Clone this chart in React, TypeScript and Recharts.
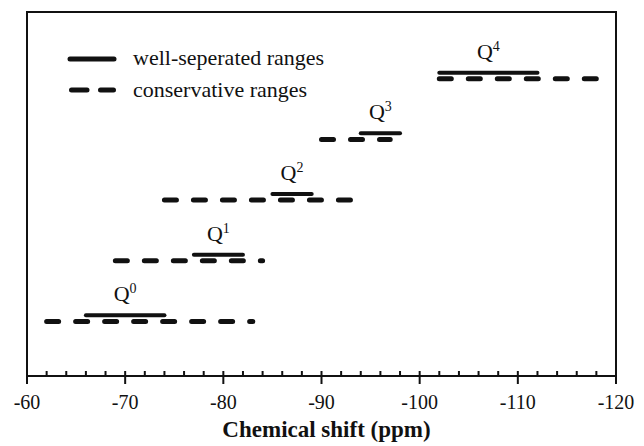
import { LineChart, Line, XAxis, YAxis, ReferenceDot, ReferenceArea, Legend } from 'recharts';

// Q^n species, ranges in ppm
const species = ['0', '1', '2', '3', '4'];
const wellStart = [-66, -77, -85, -94, -102];
const wellEnd = [-74, -82, -89, -98, -112];
const consStart = [-62, -69, -74, -90, -102];
const consEnd = [-83, -84, -93, -97, -118];
const levels = [0.9, 1.9, 2.9, 3.9, 4.9];

const majorTicks = [-60, -70, -80, -90, -100, -110, -120];
const allTicks = [
  -60, -62, -64, -66, -68, -70, -72, -74, -76, -78, -80, -82, -84, -86, -88, -90,
  -92, -94, -96, -98, -100, -102, -104, -106, -108, -110, -112, -114, -116, -118, -120,
];

const legendLabels = ['well-seperated ranges', 'conservative ranges'];

const FONT = 'Liberation Serif';
const INK = '#111';
const SOLID_LIFT = 0.1; // solid bar sits just above its dashed bar

const wellData = species.map((_, i) => [
  { x: wellStart[i], y: levels[i] + SOLID_LIFT },
  { x: wellEnd[i], y: levels[i] + SOLID_LIFT },
]);
const consData = species.map((_, i) => [
  { x: consStart[i], y: levels[i] },
  { x: consEnd[i], y: levels[i] },
]);

function ShiftTick(props: any) {
  const { x, y, payload } = props;
  const major = majorTicks.includes(payload.value);
  return (
    <g>
      <line x1={x} x2={x} y1={y - 5} y2={major ? y + 8 : y} stroke={INK} strokeWidth={2} />
      {major && (
        <text x={x} y={y + 33} textAnchor="middle" style={{ fontFamily: FONT, fontSize: 20 }} fill={INK}>
          {payload.value}
        </text>
      )}
    </g>
  );
}

function LegendBox() {
  return (
    <svg width={636} height={110} style={{ display: 'block' }}>
      <line x1={62} x2={106} y1={51} y2={51} stroke={INK} strokeWidth={5} strokeLinecap="round" />
      <text x={125} y={57} style={{ fontFamily: FONT, fontSize: 22 }} fill={INK}>{legendLabels[0]}</text>
      <line x1={63.5} x2={105.5} y1={82} y2={82} stroke={INK} strokeWidth={5}
        strokeLinecap="round" strokeDasharray="15.5 13.5" />
      <text x={125} y={89} style={{ fontFamily: FONT, fontSize: 22 }} fill={INK}>{legendLabels[1]}</text>
    </svg>
  );
}

function AxisTitle(props: any) {
  const { x, y, width, height } = props.viewBox;
  return (
    <text x={x + width / 2 + 5} y={y + height - 9} textAnchor="middle"
      style={{ fontFamily: FONT, fontSize: 23, fontWeight: 'bold' }} fill={INK}>
      Chemical shift (ppm)
    </text>
  );
}

export default function App() {
  return (
    <>
      <style>{'html, body { overflow: hidden; }'}</style>
      <LineChart width={636} height={438} margin={{ top: 4, right: 28, bottom: 0, left: 19 }}
        style={{ fontFamily: FONT }}>
        <XAxis
          type="number"
          dataKey="x"
          domain={[-120, -60]}
          reversed
          ticks={allTicks}
          interval={0}
          tick={<ShiftTick />}
          tickLine={false}
          tickSize={0}
          tickMargin={0}
          height={70}
          axisLine={{ stroke: INK, strokeWidth: 2 }}
          label={{ content: AxisTitle }}
        />
        <YAxis type="number" domain={[0, 6]} width={0} hide />
        {/* plot frame */}
        <ReferenceArea x1={-60} x2={-120} y1={0} y2={6} fill="none" stroke={INK} strokeWidth={2}
          ifOverflow="visible" />
        <Legend
          layout="horizontal"
          verticalAlign="middle"
          align="center"
          content={() => <LegendBox />}
          wrapperStyle={{ position: 'absolute', left: 0, top: 0, width: 636, height: 110 }}
        />
        {consData.map((d, i) => (
          <Line
            key={`cons-${i}`}
            data={d}
            dataKey="y"
            stroke={INK}
            strokeWidth={5}
            strokeLinecap="round"
            strokeDasharray="12 17"
            dot={false}
            activeDot={false}
            isAnimationActive={false}
            legendType="none"
          />
        ))}
        {wellData.map((d, i) => (
          <Line
            key={`well-${i}`}
            data={d}
            dataKey="y"
            stroke={INK}
            strokeWidth={4}
            strokeLinecap="round"
            dot={false}
            activeDot={false}
            isAnimationActive={false}
            legendType="none"
          />
        ))}
        {species.map((n, i) => (
          <ReferenceDot
            key={`q-${n}`}
            x={(wellStart[i] + wellEnd[i]) / 2}
            y={levels[i] + SOLID_LIFT}
            r={0}
            shape={(p: any) => (
              <text x={p.cx} y={p.cy - 14} textAnchor="middle" style={{ fontFamily: FONT, fontSize: 22 }} fill={INK}>
                Q<tspan dy={-8} style={{ fontSize: 14 }}>{n}</tspan>
              </text>
            )}
          />
        ))}
      </LineChart>
    </>
  );
}
